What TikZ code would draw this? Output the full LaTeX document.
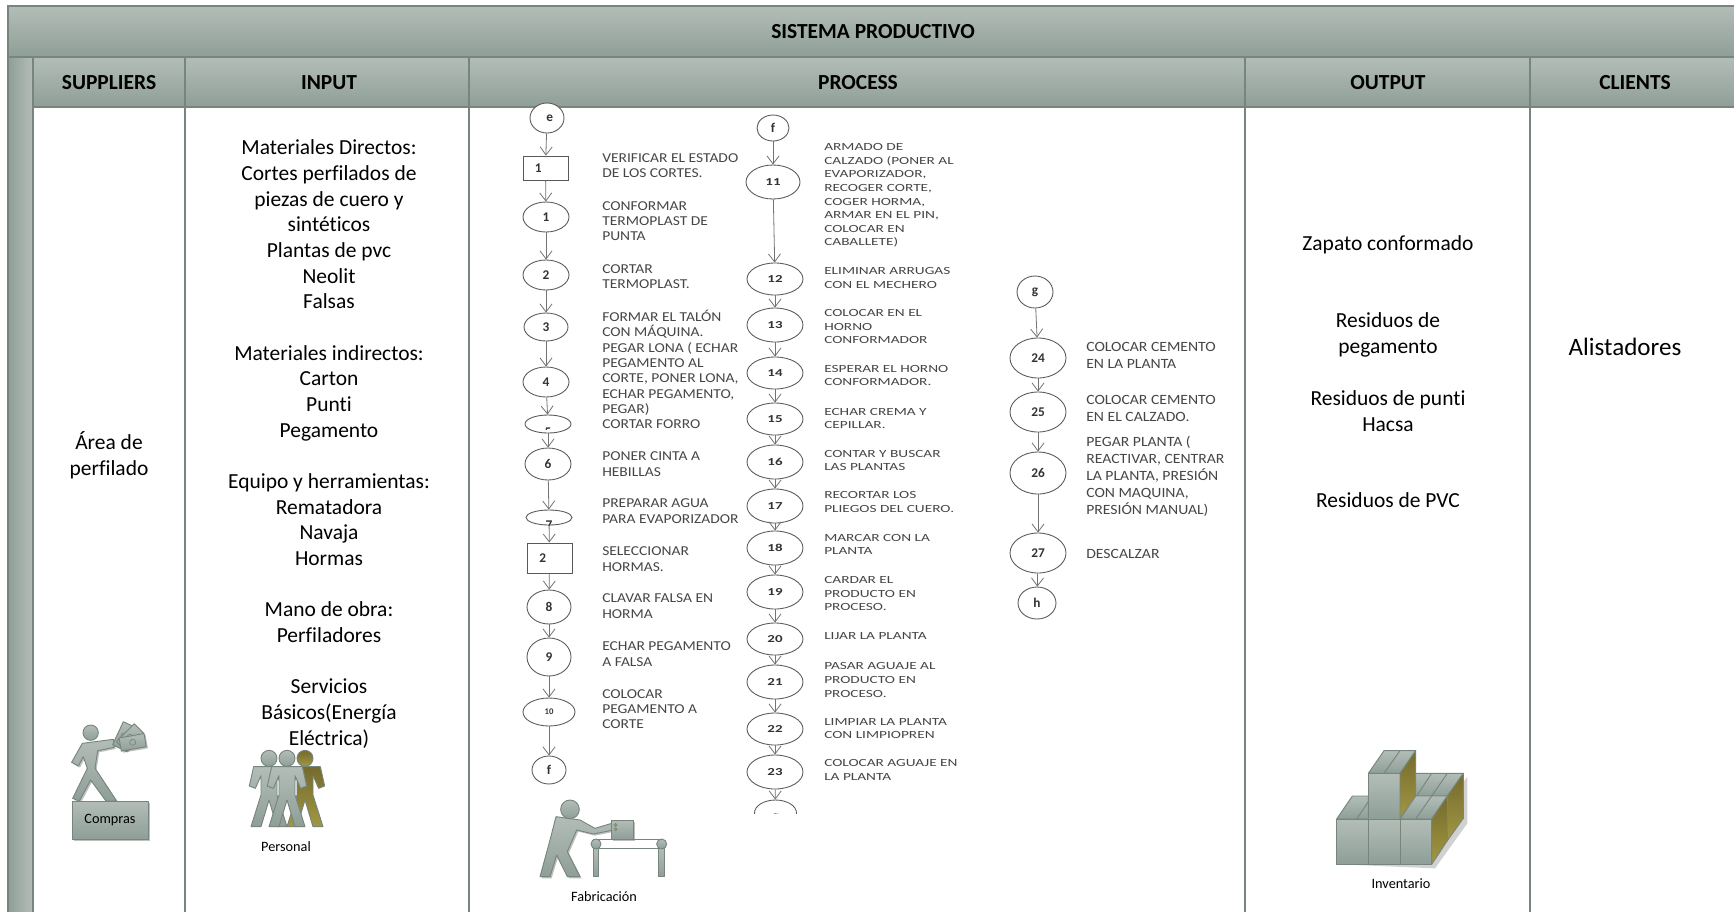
\documentclass[tikz,border=0pt]{standalone}
\usepackage{fontspec}
\setmainfont{Carlito}[Ligatures=NoCommon]
\newfontfamily\flowa[FakeStretch=1.14,Ligatures=NoCommon]{Carlito}
\newfontfamily\flowb[FakeStretch=1.4,Ligatures=NoCommon]{Carlito}
\newfontfamily\flowc[FakeStretch=1.11,Ligatures=NoCommon]{Carlito}
\newfontfamily\flown[Ligatures=NoCommon]{Carlito}
\usetikzlibrary{arrows.meta,shapes.geometric,shadows}
\definecolor{gtop}{HTML}{B3BDB7}
\definecolor{gbot}{HTML}{8E9F97}
\definecolor{gline}{HTML}{76867E}
\definecolor{otop}{HTML}{756A2C}
\definecolor{obot}{HTML}{A29842}
\definecolor{ftext}{HTML}{464646}
\tikzset{
  band/.style={draw=gline,line width=1.1pt,top color=gtop,bottom color=gbot},
  cell/.style={draw=gline,line width=1.1pt,fill=white},
  icon/.style={draw=gline,line width=.7pt,top color=gtop,bottom color=gbot,line join=round},
  iconsh/.style={icon,drop shadow={shadow xshift=1.2pt,shadow yshift=-1.2pt,opacity=.25,fill=black}},
  olive/.style={draw=gline,line width=.7pt,top color=otop,bottom color=obot,line join=round},
  head/.style={inner sep=0pt,font=\fontsize{16.1}{19}\selectfont\bfseries},
  body/.style={inner sep=0pt,align=center,font=\fontsize{16.1}{19.26}\selectfont},
  small/.style={inner sep=0pt,font=\fontsize{10.7}{12}\selectfont},
  fshape/.style={draw=black!65,line width=.65pt,fill=white,inner sep=0pt},
  fell/.style={fshape,ellipse},
  fnum/.style={text=black!80,font=\flowb\bfseries\fontsize{8}{9}\selectfont},
  fnumb/.style={text=black!80,font=\flown\bfseries\fontsize{10}{11}\selectfont},
  fa/.style={inner sep=0pt,anchor=west,align=left,text=ftext,font=\flowa\fontsize{10.2}{11.45}\selectfont},
  fb/.style={inner sep=0pt,anchor=west,align=left,text=ftext,font=\flowb\fontsize{8.2}{10.2}\selectfont},
  fc/.style={inner sep=0pt,anchor=west,align=left,text=ftext,font=\flowc\fontsize{10.6}{12.75}\selectfont},
  farrow/.style={draw=black!55,line width=.6pt,-{Straight Barb[length=6pt,width=9pt]}},
}
\newcommand{\FlowE}[7]{\node[fell,#7,minimum width={1.5pt*#4},minimum height={1.5pt*#5}] (#1) at (#2,#3) {#6};}
\newcommand{\Walker}[3]{%
  \path[#3] (#1-46,#2+25) -- (#1+46,#2+25) -- (#1+59,#2+83) -- (#1+41,#2+90) -- (#1+24,#2+52) -- (#1+24,#2+110) -- (#1+54,#2+205) -- (#1+24,#2+205) -- (#1,#2+125) -- (#1-24,#2+205) -- (#1-54,#2+205) -- (#1-24,#2+110) -- (#1-24,#2+52) -- (#1-41,#2+90) -- (#1-59,#2+83) -- cycle;
  \path[#3] (#1,#2) circle (24);}
\begin{document}
\begin{tikzpicture}[x=.75pt,y=-.75pt]
\useasboundingbox (0,0) rectangle (1734,911);
\begin{scope}
\clip (0,0) rectangle (1734,911);
% frame
\path[band] (8,6) rectangle (1750,57);
\path[draw=gline,line width=1.1pt,left color=gbot,right color=gtop] (8,57) rectangle (33,930);
\foreach \a/\b in {33/185,185/469,469/1245,1245/1530,1530/1750}{
  \path[cell] (\a,107) rectangle (\b,930);
  \path[band] (\a,57) rectangle (\b,107);
}
\node[head] (title) at (873,32) {SISTEMA PRODUCTIVO};
\node[head] (hs) at (109,83) {SUPPLIERS};
\node[head] (hi) at (329,83) {INPUT};
\node[head] (hp) at (858,83) {PROCESS};
\node[head] (ho) at (1388,83) {OUTPUT};
\node[head] (hc) at (1635,83) {CLIENTS};
% body text
\node[body] (sup) at (109,455) {Área de\\perfilado};
\node[body] (inp) at (329,444) {Materiales Directos:\\Cortes perfilados de\\piezas de cuero y\\sintéticos\\Plantas de pvc\\Neolit\\Falsas\\[19.26pt]Materiales indirectos:\\Carton\\Punti\\Pegamento\\[19.26pt]Equipo y herramientas:\\Rematadora\\Navaja\\Hormas\\[19.26pt]Mano de obra:\\Perfiladores\\[19.26pt]Servicios\\Básicos(Energía\\Eléctrica)};
\node[body] (o1) at (1388,245) {Zapato conformado};
\node[body] (o2) at (1388,335) {Residuos de\\pegamento};
\node[body] (o3) at (1388,411) {Residuos de punti\\Hacsa};
\node[body] (o4) at (1388,500) {Residuos de PVC};
\node[body,font=\fontsize{18.8}{22}\selectfont] (cl) at (1625,347) {Alistadores};
% column 1
\FlowE{e}{547}{118}{17}{15}{\hspace*{4pt}e}{fnumb}
\node[fshape,minimum width=33.75pt,minimum height=18pt,fnumb] (r1) at (545.5,168) {\hspace*{-11pt}1};
\FlowE{a1}{546}{217}{23}{15}{1}{fnumb}
\FlowE{a2}{546}{275}{23}{15}{2}{fnumb}
\FlowE{a3}{546}{327}{22}{14}{3}{fnumb}
\FlowE{a4}{546}{382}{23}{15}{4}{fnumb}
\FlowE{a5}{548}{424}{23}{9}{}{fnumb}
\begin{scope}\clip (530,415) rectangle (566,429);\node[fnumb] (l5) at (548,432) {5};\end{scope}
\FlowE{a6}{548}{464}{23}{16}{6}{fnumb}
\FlowE{a7}{549}{517.5}{23}{7.5}{}{fnumb}
\begin{scope}\clip (530,510) rectangle (566,525);\node[fnumb] (l7) at (549,525) {7};\end{scope}
\node[fshape,minimum width=33.75pt,minimum height=22.5pt,fnumb] (r2) at (549.5,558) {\hspace*{-10pt}2};
\FlowE{a8}{549}{607}{22}{17}{8}{fnumb}
\FlowE{a9}{549}{657}{22}{19}{9}{fnumb}
\FlowE{a10}{549}{712}{26}{14}{\fontsize{6.5}{8}\selectfont 10}{fnumb}
\FlowE{f1}{549}{770}{17}{14}{f}{fnumb}
\foreach \s/\t in {e/r1,r1/a1,a1/a2,a2/a3,a3/a4,a4/a5,a5/a6,a6/a7,a7/r2,r2/a8,a8/a9,a9/a10,a10/f1}{\draw[farrow] (\s) -- (\t);}
\node[fa] (t1) at (602,166) {VERIFICAR EL ESTADO\\DE LOS CORTES.};
\node[fa] (t2) at (602,221) {CONFORMAR\\TERMOPLAST DE\\PUNTA};
\node[fa] (t3) at (602,276.5) {CORTAR\\TERMOPLAST.};
\node[fa] (t4) at (602,369.5) {FORMAR EL TALÓN\\CON MÁQUINA.\\PEGAR LONA ( ECHAR\\PEGAMENTO AL\\CORTE, PONER LONA,\\ECHAR PEGAMENTO,\\PEGAR)\\CORTAR FORRO};
\node[fa] (t5) at (602,464) {PONER CINTA A\\HEBILLAS};
\node[fa] (t6) at (602,511) {PREPARAR AGUA\\PARA EVAPORIZADOR};
\node[fa] (t7) at (602,559) {SELECCIONAR\\HORMAS.};
\node[fa] (t8) at (602,606) {CLAVAR FALSA EN\\HORMA};
\node[fa] (t9) at (602,654) {ECHAR PEGAMENTO\\A FALSA};
\node[fa] (t10) at (602,709) {COLOCAR\\PEGAMENTO A\\CORTE};
% column 2
\FlowE{f2}{773}{128}{16}{13}{f}{fnumb}
\FlowE{b11}{773}{182}{27}{17}{11}{fnum}
\FlowE{b12}{775}{279}{28}{16}{12}{fnum}
\FlowE{b13}{775}{325}{28}{17}{13}{fnum}
\FlowE{b14}{775}{373}{28}{16}{14}{fnum}
\FlowE{b15}{775}{419}{28}{16}{15}{fnum}
\FlowE{b16}{775}{462}{28}{17}{16}{fnum}
\FlowE{b17}{775}{506}{28}{17}{17}{fnum}
\FlowE{b18}{775}{548}{28}{17}{18}{fnum}
\FlowE{b19}{775}{592}{28}{17}{19}{fnum}
\FlowE{b20}{775}{639}{28}{16}{20}{fnum}
\FlowE{b21}{775}{682}{28}{17}{21}{fnum}
\FlowE{b22}{775}{729}{28}{16}{22}{fnum}
\FlowE{b23}{775}{772}{28}{17}{23}{fnum}
\begin{scope}\clip (745,795) rectangle (805,813);\FlowE{gg}{775.5}{813}{21}{13}{}{fnum}\node[fnumb] (lg) at (775.5,818) {g};\end{scope}
\foreach \s/\t in {f2/b11,b11/b12,b12/b13,b13/b14,b14/b15,b15/b16,b16/b17,b17/b18,b18/b19,b19/b20,b20/b21,b21/b22,b22/b23,b23/gg}{\draw[farrow] (\s) -- (\t);}
\node[fb] (u1) at (824,195.5) {ARMADO DE\\CALZADO (PONER AL\\EVAPORIZADOR,\\RECOGER CORTE,\\COGER HORMA,\\ARMAR EN EL PIN,\\COLOCAR EN\\CABALLETE)};
\node[fb] (u2) at (824,278) {ELIMINAR ARRUGAS\\CON EL MECHERO};
\node[fb] (u3) at (824,326.5) {COLOCAR EN EL\\HORNO\\CONFORMADOR};
\node[fb] (u4) at (824,375.5) {ESPERAR EL HORNO\\CONFORMADOR.};
\node[fb] (u5) at (824,418.5) {ECHAR CREMA Y\\CEPILLAR.};
\node[fb] (u6) at (824,460.5) {CONTAR Y BUSCAR\\LAS PLANTAS};
\node[fb] (u7) at (824,502) {RECORTAR LOS\\PLIEGOS DEL CUERO.};
\node[fb] (u8) at (824,544.5) {MARCAR CON LA\\PLANTA};
\node[fb] (u9) at (824,593.5) {CARDAR EL\\PRODUCTO EN\\PROCESO.};
\node[fb] (u10) at (824,636) {LIJAR LA PLANTA};
\node[fb] (u11) at (824,680) {PASAR AGUAJE AL\\PRODUCTO EN\\PROCESO.};
\node[fb] (u12) at (824,728.5) {LIMPIAR LA PLANTA\\CON LIMPIOPREN};
\node[fb] (u13) at (824,770) {COLOCAR AGUAJE EN\\LA PLANTA};
% column 3
\FlowE{g3}{1035}{292}{18}{16}{g}{fnumb}
\FlowE{c24}{1038}{358}{28}{20}{24}{fnumb}
\FlowE{c25}{1038}{412}{28}{20}{25}{fnumb}
\FlowE{c26}{1038}{473}{28}{21}{26}{fnumb}
\FlowE{c27}{1038}{553}{28}{20}{27}{fnumb}
\FlowE{h3}{1037}{603}{19}{16}{h}{fnumb}
\foreach \s/\t in {g3/c24,c24/c25,c25/c26,c26/c27,c27/h3}{\draw[farrow] (\s) -- (\t);}
\node[fc] (v1) at (1086,355) {COLOCAR CEMENTO\\EN LA PLANTA};
\node[fc] (v2) at (1086,408) {COLOCAR CEMENTO\\EN EL CALZADO.};
\node[fc] (v3) at (1086,476) {PEGAR PLANTA (\\REACTIVAR, CENTRAR\\LA PLANTA, PRESIÓN\\CON MAQUINA,\\PRESIÓN MANUAL)};
\node[fc] (v4) at (1086,554) {DESCALZAR};
% Compras icon
\begin{scope}[shift={(50,700)},x=.25pt,y=-.25pt]
 \path[iconsh] (97,130) -- (190,118) -- (192,142) -- (143,152) -- (135,205) -- (200,303) -- (168,303) -- (122,240) -- (88,303) -- (68,295) -- (112,205) -- (100,170) -- (85,198) -- (65,187) -- cycle;
 \path[icon] (122,98) circle (23);
 \foreach \r/\cx/\cy in {65/222/108,45/240/112,10/248/127}{
   \begin{scope}[shift={(\cx,\cy)},rotate=\r]
     \path[iconsh] (-38,-20) rectangle (38,20);
     \path[draw=gline,line width=.5pt] (0,0) circle (9);
   \end{scope}}
\end{scope}
\node[iconsh,minimum width=57pt,minimum height=28.5pt,inner sep=0pt,small] (compras) at (110,820) {Compras};
% Personal icon
\begin{scope}[shift={(50,700)},x=.25pt,y=-.25pt]
 \Walker{765}{175}{olive}
 \Walker{657}{175}{icon}
 \Walker{711}{175}{icon}
\end{scope}
\node[small] (personal) at (286,847) {Personal};
% Fabricacion icon
\begin{scope}[shift={(480,480)},x=.25pt,y=-.25pt]
 \path[iconsh] (228,1010) -- (300,1020) -- (345,1045) -- (395,1030) -- (400,1050) -- (340,1062) -- (290,1050) -- (262,1115) -- (300,1190) -- (262,1190) -- (230,1125) -- (210,1190) -- (180,1190) -- (210,1080) -- cycle;
 \path[icon] (270,988) circle (28);
 \path[iconsh] (393,1020) rectangle (460,1078);
 \path[icon] (340,1105) rectangle (355,1190);
 \path[icon] (535,1105) rectangle (553,1190);
 \path[draw=gline,line width=1pt] (340,1078) -- (550,1078) (350,1105) -- (540,1105);
 \path[icon] (348,1092) circle (15);
 \path[icon] (545,1092) circle (15);
 \path[fill=obot,draw=gline,line width=.3pt] (407,1035) circle (5) (407,1048) circle (5);
\end{scope}
\node[small] (fab) at (604,897) {Fabricación};
% Inventario icon
\begin{scope}[shift={(1300,720)},x=.25pt,y=-.25pt]
 \path[fill=black,opacity=.18] (120,433) -- (405,445) -- (502,310) -- (502,170) -- (400,300) -- cycle;
 \path[icon] (347,160) -- (490,160) -- (442,228) -- (300,228) -- cycle;
 \path[draw=gline,line width=.7pt] (395,160) -- (350,228) (442,160) -- (395,228);
 \path[olive] (490,160) -- (490,295) -- (442,362) -- (442,228) -- cycle;
 \path[icon] (110,297) -- (157,228) -- (205,228) -- (205,297) -- cycle;
 \path[draw=gline,line width=.7pt] (170,297) -- (205,245);
 \path[icon] (205,160) rectangle (300,297);
 \path[icon] (205,160) -- (252,92) -- (347,92) -- (300,160) -- cycle;
 \path[draw=gline,line width=.7pt] (252,160) -- (300,92);
 \path[olive] (300,160) -- (347,92) -- (347,228) -- (300,297) -- cycle;
 \path[icon] (300,297) -- (347,228) -- (442,228) -- (395,297) -- cycle;
 \path[draw=gline,line width=.7pt] (347,297) -- (395,228);
 \path[olive] (395,297) -- (442,228) -- (442,362) -- (395,433) -- cycle;
 \path[icon] (110,297) rectangle (205,433);
 \path[icon] (205,297) rectangle (300,433);
 \path[icon] (300,297) rectangle (395,433);
\end{scope}
\node[small] (inv) at (1401,884) {Inventario};
\end{scope}
\end{tikzpicture}
\end{document}
